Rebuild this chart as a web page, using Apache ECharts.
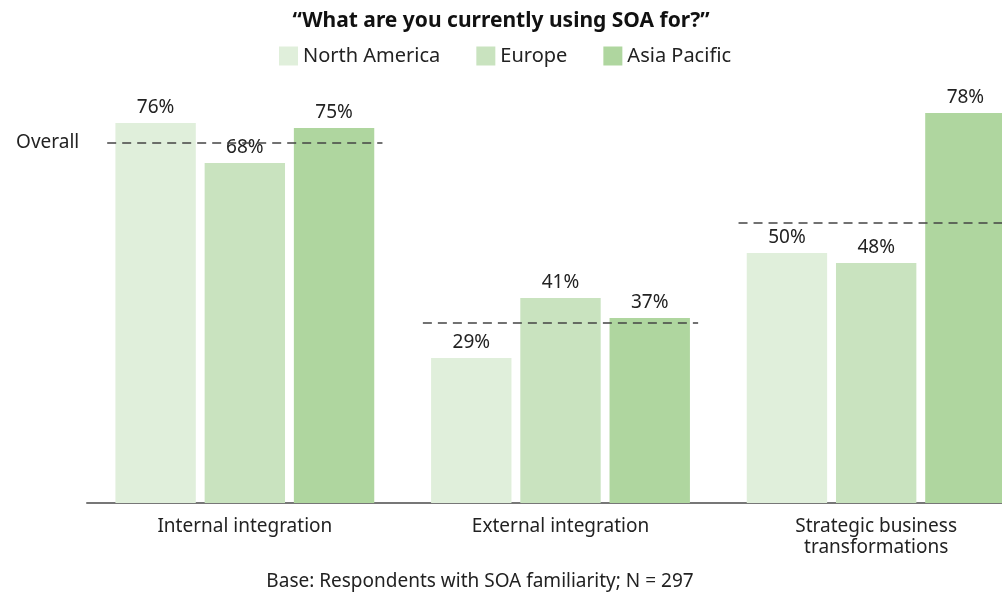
<!DOCTYPE html>
<html>
<head>
<meta charset="utf-8">
<script src="https://cdn.jsdelivr.net/npm/echarts@6/dist/echarts.min.js"></script>
<style>
  html, body { margin: 0; padding: 0; background: #fff; }
  #chart { width: 1002px; height: 594px; }
</style>
</head>
<body>
<div id="chart"></div>
<script>
  // data
  var categories = ['Internal integration', 'External integration', 'Strategic business\ntransformations'];
  var northAmerica = [76, 29, 50];
  var europe = [68, 41, 48];
  var asiaPacific = [75, 37, 78];
  var overall = [72, 36, 56];

  var chart = echarts.init(document.getElementById('chart'));
  var font = '"Noto Sans", "Open Sans", sans-serif';

  function barSeries(name, data, color) {
    return {
      name: name,
      type: 'bar',
      data: data,
      barGap: '11%',
      barCategoryGap: '18%',
      itemStyle: { color: color },
      label: {
        show: true,
        position: 'top',
        distance: 6,
        formatter: '{c}%',
        color: '#222',
        fontSize: 19,
        fontFamily: font
      }
    };
  }

  var option = {
    animation: false,
    title: {
      text: '\u201cWhat are you currently using SOA for?\u201d',
      left: 'center',
      top: 6,
      textStyle: { fontSize: 21, fontWeight: 'bold', color: '#111', fontFamily: font }
    },
    legend: {
      top: 41,
      left: 274,
      itemWidth: 19,
      itemHeight: 19,
      itemGap: 36,
      icon: 'rect',
      textStyle: { fontSize: 20, color: '#222', fontFamily: font },
      data: ['North America', 'Europe', 'Asia Pacific']
    },
    grid: { left: 87, width: 947, top: 103, bottom: 91, outerBoundsMode: 'none' },
    xAxis: {
      type: 'category',
      data: categories,
      axisLine: { lineStyle: { color: '#777', width: 2 } },
      axisTick: { show: false },
      axisLabel: { color: '#222', fontSize: 19, fontFamily: font, margin: 13, lineHeight: 21, interval: 0 }
    },
    yAxis: {
      type: 'value',
      min: 0,
      max: 80,
      show: false,
      splitLine: { show: false }
    },
    graphic: [{
      type: 'text',
      x: 480,
      y: 582,
      style: {
        text: 'Base: Respondents with SOA familiarity; N = 297',
        fontSize: 19, fill: '#222', fontFamily: font,
        align: 'center', verticalAlign: 'middle'
      }
    }],
    series: [
      barSeries('North America', northAmerica, '#e0efdb'),
      barSeries('Europe', europe, '#c9e3bf'),
      barSeries('Asia Pacific', asiaPacific, '#afd69f'),
      {
        name: 'Overall',
        type: 'custom',
        data: overall.map(function (v, i) { return [i, v]; }),
        z: 10,
        renderItem: function (params, api) {
          var p = api.coord([api.value(0), api.value(1)]);
          var band = api.size([1, 0])[0];
          var half = band * 0.436;
          var children = [{
            type: 'line',
            shape: { x1: p[0] - half, y1: p[1], x2: p[0] + half, y2: p[1] },
            style: { stroke: '#444', lineWidth: 1.5, lineDash: [9, 6] }
          }];
          if (params.dataIndex === 0) {
            children.push({
              type: 'text',
              style: {
                text: 'Overall', x: p[0] - half - 28, y: p[1],
                align: 'right', verticalAlign: 'middle',
                fontSize: 19, fill: '#222', fontFamily: font
              }
            });
          }
          return { type: 'group', children: children };
        }
      }
    ]
  };

  chart.setOption(option);
</script>
</body>
</html>
